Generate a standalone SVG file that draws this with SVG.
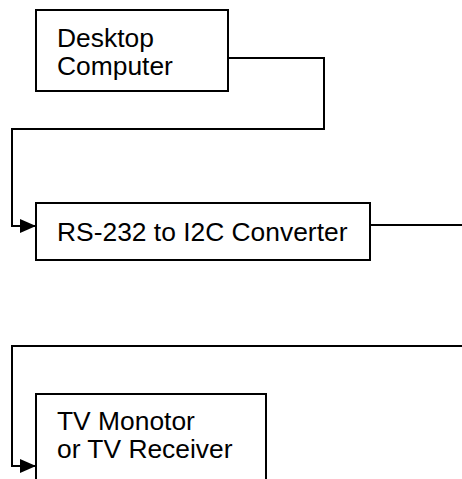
<svg xmlns="http://www.w3.org/2000/svg" width="462" height="479" viewBox="0 0 462 479">
<style>
.box{fill:#fff;stroke:#000;stroke-width:2}
.t{font-family:"Liberation Sans",Arial,sans-serif;font-size:26.4px;fill:#000}
.c{fill:none;stroke:#000;stroke-width:2}
</style>
<defs>
<marker id="ah" markerWidth="16" markerHeight="14" refX="15" refY="7" orient="auto" markerUnits="userSpaceOnUse">
<path d="M0,0 L16,7 L0,14 z" fill="#000"/>
</marker>
</defs>
<rect width="462" height="479" fill="#fff"/>
<g id="connectors">
<path class="c" d="M228,58 H324 V129 H12 V226 H35" marker-end="url(#ah)"/>
<path class="c" d="M370,225 H462"/>
<path class="c" d="M462,346 H12 V466 H35" marker-end="url(#ah)"/>
</g>
<g id="desktop">
<rect class="box" x="36" y="10" width="192" height="81"/>
<text class="t" x="57" y="47">Desktop</text>
<text class="t" x="57" y="75">Computer</text>
</g>
<g id="converter">
<rect class="box" x="36" y="203" width="334" height="57"/>
<text class="t" x="57" y="241">RS-232 to I2C Converter</text>
</g>
<g id="tv">
<rect class="box" x="36" y="394" width="230" height="100"/>
<text class="t" x="57" y="430">TV Monotor</text>
<text class="t" x="57" y="458">or TV Receiver</text>
</g>
</svg>
